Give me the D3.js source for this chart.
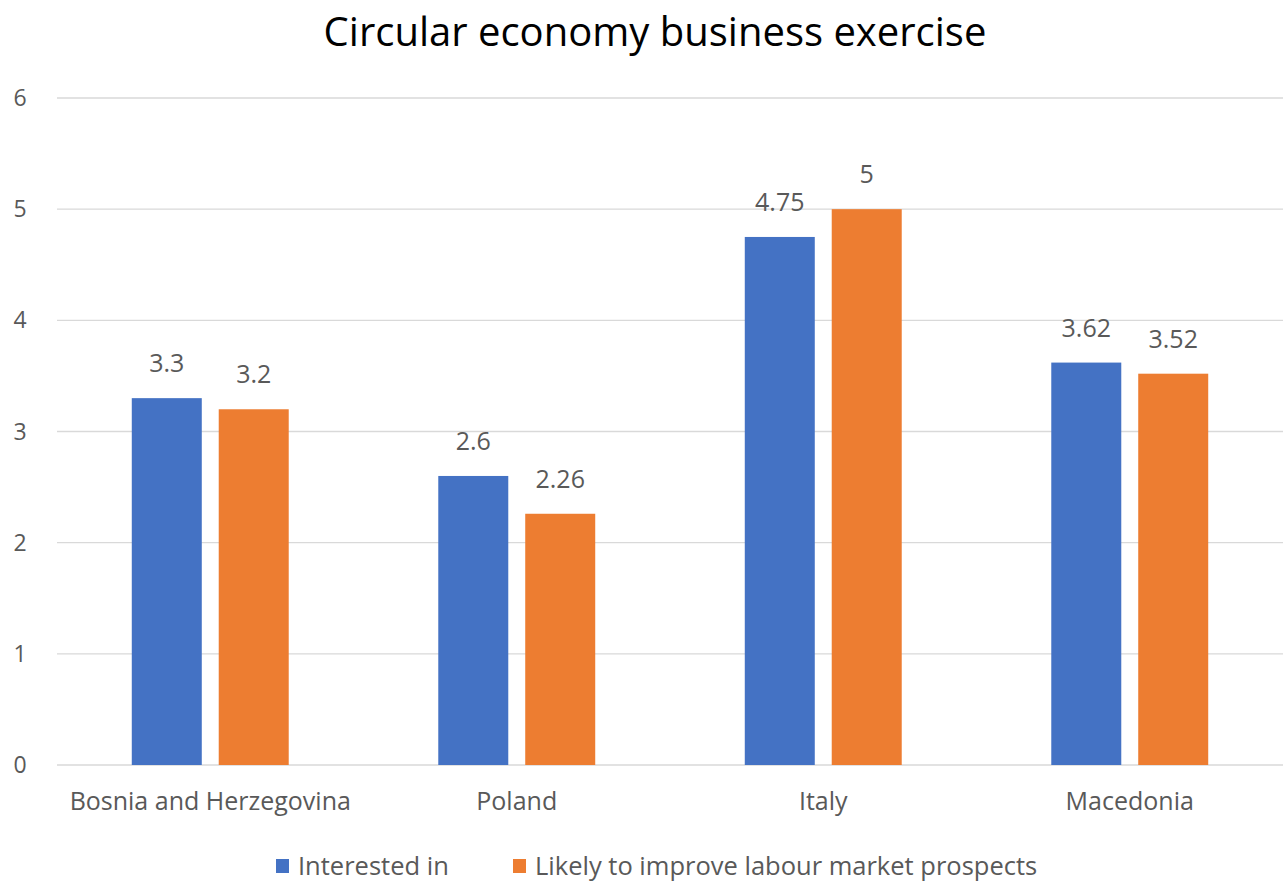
<!DOCTYPE html>
<html lang="en">
<head>
<meta charset="utf-8">
<script src="https://d3js.org/d3.v7.min.js"></script>
<style>
  body { margin: 0; background: #fff; }
  text { font-family: "Open Sans", sans-serif; fill: #595959; }
</style>
</head>
<body>
<script>
// chart data
const countries = ["Bosnia and Herzegovina", "Poland", "Italy", "Macedonia"];
const seriesNames = ["Interested in", "Likely to improve labour market prospects"];
const interested = [3.3, 2.6, 4.75, 3.62];
const likely = [3.2, 2.26, 5, 3.52];
const yTicks = [0, 1, 2, 3, 4, 5, 6];
const colors = ["#4472C4", "#ED7D31"];

const width = 1283, height = 883;
const margin = {top: 98, right: 0, bottom: 118, left: 57};

const svg = d3.select("body").append("svg")
    .attr("width", width)
    .attr("height", height);

const x = d3.scaleBand()
    .domain(countries)
    .range([margin.left, width - margin.right]);

const x1 = d3.scaleBand()
    .domain([0, 1])
    .range([0, x.bandwidth()])
    .paddingInner(0.195)
    .paddingOuter(0.86);

const y = d3.scaleLinear()
    .domain([0, 6])
    .range([height - margin.bottom, margin.top]);

// title
svg.append("text")
    .attr("x", 655)
    .attr("y", 46)
    .attr("text-anchor", "middle")
    .style("font-size", "40px")
    .style("fill", "#000")
    .text("Circular economy business exercise");

// gridlines
svg.append("g")
  .selectAll("line")
  .data(yTicks)
  .join("line")
    .attr("x1", margin.left)
    .attr("x2", width)
    .attr("y1", d => y(d))
    .attr("y2", d => y(d))
    .attr("stroke", "#d9d9d9")
    .attr("stroke-width", 1.3);

// y labels
svg.append("g")
  .selectAll("text")
  .data(yTicks)
  .join("text")
    .attr("x", 20)
    .attr("y", d => y(d))
    .attr("dy", "0.35em")
    .attr("text-anchor", "middle")
    .style("font-size", "23px")
    .text(d => d);

const series = [interested, likely];
const groups = svg.append("g")
  .selectAll("g")
  .data(countries)
  .join("g")
    .attr("transform", d => `translate(${x(d)},0)`);

groups.selectAll("rect")
  .data((d, i) => series.map((s, k) => ({k, v: s[i]})))
  .join("rect")
    .attr("x", d => x1(d.k))
    .attr("width", x1.bandwidth())
    .attr("y", d => y(d.v))
    .attr("height", d => y(0) - y(d.v))
    .attr("fill", d => colors[d.k]);

groups.selectAll("text.val")
  .data((d, i) => series.map((s, k) => ({k, v: s[i]})))
  .join("text")
    .attr("class", "val")
    .attr("x", d => x1(d.k) + x1.bandwidth() / 2)
    .attr("y", d => y(d.v) - 26)
    .attr("text-anchor", "middle")
    .style("font-size", "25px")
    .text(d => d.v);

// x labels
svg.append("g")
  .selectAll("text")
  .data(countries)
  .join("text")
    .attr("x", d => x(d) + x.bandwidth() / 2)
    .attr("y", 810)
    .attr("text-anchor", "middle")
    .style("font-size", "25px")
    .text(d => d);

// legend
const legendX = [276, 513];
const legend = svg.append("g")
  .selectAll("g")
  .data(seriesNames)
  .join("g")
    .attr("transform", (d, i) => `translate(${legendX[i]},866)`);

legend.append("rect")
    .attr("x", 0)
    .attr("y", -7)
    .attr("width", 13)
    .attr("height", 14)
    .attr("fill", (d, i) => colors[i]);

legend.append("text")
    .attr("x", 22)
    .attr("y", 0)
    .attr("dy", "0.35em")
    .style("font-size", "25.5px")
    .text(d => d);
</script>
</body>
</html>
